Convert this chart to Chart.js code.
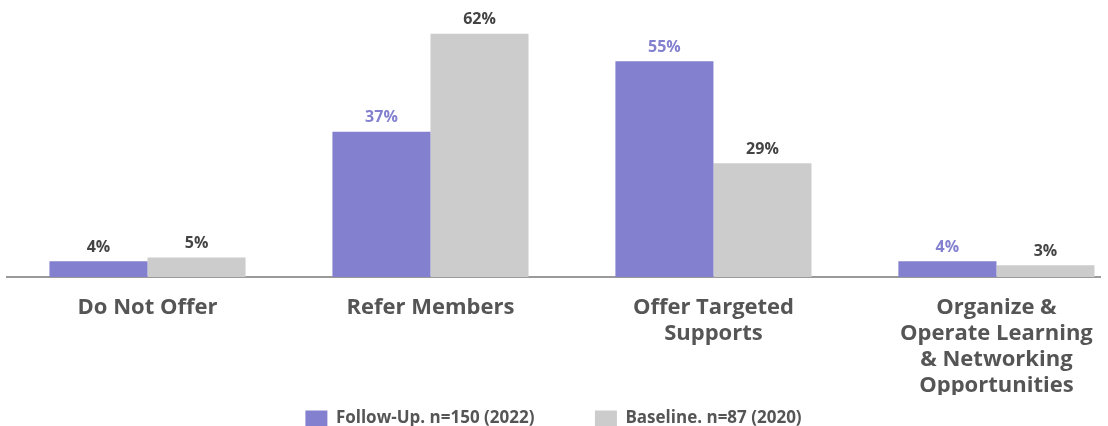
<!DOCTYPE html>
<html>
<head>
<meta charset="utf-8">
<script src="https://cdn.jsdelivr.net/npm/chart.js@4"></script>
<style>
  html, body { margin: 0; padding: 0; background: #fff; }
  #wrap { width: 1108px; height: 426px; position: relative; }
</style>
</head>
<body>
<div id="wrap"><canvas id="chart"></canvas></div>
<script>
// categories and values
const categories = [
  ['Do Not Offer'],
  ['Refer Members'],
  ['Offer Targeted', 'Supports'],
  ['Organize &', 'Operate Learning', '& Networking', 'Opportunities']
];
const followUp = [4, 37, 55, 4];
const baseline = [5, 62, 29, 3];
const seriesNames = ['Follow-Up. n=150 (2022)', 'Baseline. n=87 (2020)'];

const purple = '#8381cf';
const grey = '#cccccc';
const textGrey = '#555555';

// value labels above each bar
const barLabels = {
  id: 'barLabels',
  afterDatasetsDraw(chart, args, opts) {
    const ctx = chart.ctx;
    ctx.save();
    ctx.font = 'bold 16px "Open Sans"';
    ctx.textAlign = 'center';
    ctx.textBaseline = 'bottom';
    chart.data.datasets.forEach((ds, di) => {
      const meta = chart.getDatasetMeta(di);
      meta.data.forEach((bar, i) => {
        ctx.fillStyle = opts.colors[di][i];
        ctx.fillText(ds.data[i].y + '%', bar.x, bar.y - 6);
      });
    });
    ctx.restore();
  }
};

// default legend items with an empty spacer between them for the wide gap
function legendItems(chart) {
  const items = Chart.defaults.plugins.legend.labels.generateLabels(chart);
  const spacer = {
    text: '', fillStyle: 'rgba(0,0,0,0)', strokeStyle: 'rgba(0,0,0,0)',
    lineWidth: 0, hidden: false, datasetIndex: -1
  };
  return [items[0], spacer, items[1]];
}

new Chart(document.getElementById('chart'), {
  type: 'bar',
  data: {
    datasets: [{
      label: seriesNames[0],
      data: followUp.map((v, i) => ({ x: i, y: v })),
      backgroundColor: purple
    }, {
      label: seriesNames[1],
      data: baseline.map((v, i) => ({ x: i, y: v })),
      backgroundColor: grey
    }]
  },
  options: {
    responsive: true,
    maintainAspectRatio: false,
    animation: false,
    categoryPercentage: 0.693,
    barPercentage: 1,
    layout: { padding: { top: 22, left: 7, right: 8, bottom: -11 } },
    scales: {
      x: {
        type: 'linear',
        offset: false,
        min: -0.4965,
        max: 3.366,
        afterBuildTicks: scale => {
          scale.ticks = categories.map((c, i) => ({ value: i }));
        },
        afterFit: scale => { scale.height = 118; },
        grid: { display: false },
        border: { color: '#9a9a9a', width: 2 },
        ticks: {
          autoSkip: false,
          maxRotation: 0,
          padding: 10,
          color: textGrey,
          font: { family: 'Open Sans', size: 22, weight: 'bold', lineHeight: 1.18 },
          callback: value => categories[value]
        }
      },
      y: {
        display: false,
        beginAtZero: true,
        min: 0,
        max: 65
      }
    },
    plugins: {
      tooltip: { enabled: false },
      legend: {
        position: 'bottom',
        onClick: null,
        labels: {
          boxWidth: 22,
          boxHeight: 16,
          padding: 15,
          color: textGrey,
          font: { family: 'Open Sans', size: 17, weight: 'bold' },
          generateLabels: legendItems
        }
      },
      barLabels: {
        colors: [
          ['#444444', purple, purple, purple],
          ['#444444', '#444444', '#444444', '#444444']
        ]
      }
    }
  },
  plugins: [barLabels]
});
</script>
</body>
</html>
